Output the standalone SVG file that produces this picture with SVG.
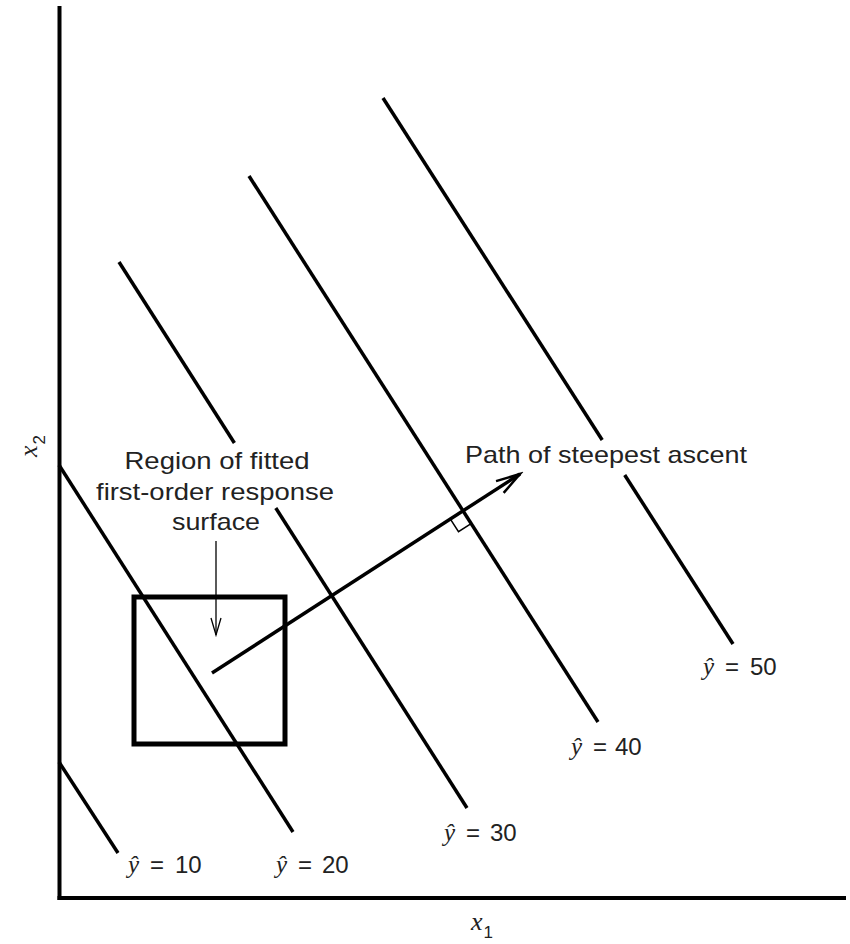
<svg xmlns="http://www.w3.org/2000/svg" width="850" height="944" viewBox="0 0 850 944">
<defs>
<style>
.axis{stroke:#000;stroke-width:4;fill:none}
.contour{stroke:#000;stroke-width:3.5;fill:none;stroke-linecap:butt}
.lbl{font-family:"Liberation Sans",Arial,sans-serif;font-size:24px;fill:#222}
.hat{font-family:"Liberation Serif","Times New Roman",serif;font-style:italic;font-size:25px;fill:#222}
.var{font-family:"Liberation Serif","Times New Roman",serif;font-style:italic;font-size:26px;fill:#222}
.sub{font-family:"Liberation Sans",Arial,sans-serif;font-style:normal;font-size:17px;fill:#222}
</style>
<marker id="bigHead" markerUnits="userSpaceOnUse" markerWidth="30" markerHeight="20" viewBox="-26 -10 30 20" refX="0" refY="0" orient="auto">
<path d="M-24,-7 L0,0 L-24,7" fill="none" stroke="#000" stroke-width="2.5"/>
</marker>
<marker id="smallHead" markerUnits="userSpaceOnUse" markerWidth="20" markerHeight="14" viewBox="-18 -7 20 14" refX="0" refY="0" orient="auto">
<path d="M-17,-5 L0,0 L-17,5" fill="none" stroke="#000" stroke-width="1.3"/>
</marker>
</defs>
<rect width="850" height="944" fill="#fff"/>

<g id="axes">
<line class="axis" x1="59.5" y1="6" x2="59.5" y2="900"/>
<line class="axis" x1="57.5" y1="898" x2="846" y2="898"/>
</g>

<g id="axis-labels">
<text class="var" x="471" y="930">x<tspan class="sub" dx="1" dy="8">1</tspan></text>
<text class="var" transform="translate(37,457) rotate(-90)">x<tspan class="sub" dx="1" dy="8">2</tspan></text>
</g>

<g id="contour-10">
<line class="contour" x1="59" y1="762" x2="118" y2="853"/>
<text x="128" y="873"><tspan class="hat">ŷ</tspan></text>
<text class="lbl" x="150" y="873">=</text>
<text class="lbl" x="175" y="873">10</text>
</g>
<g id="contour-20">
<line class="contour" x1="59" y1="465" x2="293" y2="832"/>
<text x="276" y="873"><tspan class="hat">ŷ</tspan></text>
<text class="lbl" x="298" y="873">=</text>
<text class="lbl" x="322" y="873">20</text>
</g>
<g id="contour-30">
<line class="contour" x1="119" y1="262" x2="234.4" y2="443"/>
<line class="contour" x1="275.8" y1="508" x2="467" y2="808"/>
<text x="444" y="841"><tspan class="hat">ŷ</tspan></text>
<text class="lbl" x="466" y="841">=</text>
<text class="lbl" x="490" y="841">30</text>
</g>
<g id="contour-40">
<line class="contour" x1="249" y1="176" x2="598" y2="722"/>
<text x="571" y="755"><tspan class="hat">ŷ</tspan></text>
<text class="lbl" x="593" y="755">=</text>
<text class="lbl" x="615" y="755">40</text>
</g>
<g id="contour-50">
<line class="contour" x1="383" y1="98" x2="602.2" y2="440"/>
<line class="contour" x1="624.7" y1="475" x2="733" y2="644"/>
<text x="703" y="675"><tspan class="hat">ŷ</tspan></text>
<text class="lbl" x="725" y="675">=</text>
<text class="lbl" x="750" y="675">50</text>
</g>

<g id="region">
<rect x="134" y="597" width="151" height="147" fill="none" stroke="#000" stroke-width="5"/>
<text class="lbl" x="217" y="469" text-anchor="middle" textLength="185" lengthAdjust="spacingAndGlyphs">Region of fitted</text>
<text class="lbl" x="215" y="500" text-anchor="middle" textLength="238" lengthAdjust="spacingAndGlyphs">first-order response</text>
<text class="lbl" x="216" y="530" text-anchor="middle" textLength="88" lengthAdjust="spacingAndGlyphs">surface</text>
</g>

<g id="path-label">
<text class="lbl" x="465" y="463" textLength="282" lengthAdjust="spacingAndGlyphs">Path of steepest ascent</text>
</g>

<g id="connectors">
<line x1="216" y1="541" x2="216" y2="635" stroke="#000" stroke-width="1.3" marker-end="url(#smallHead)"/>
<line x1="212" y1="673" x2="520" y2="474" stroke="#000" stroke-width="3.5" marker-end="url(#bigHead)"/>
<path d="M450.4,519.1 L458.5,531.7 L471.1,523.6" fill="none" stroke="#000" stroke-width="1.5"/>
</g>
</svg>
